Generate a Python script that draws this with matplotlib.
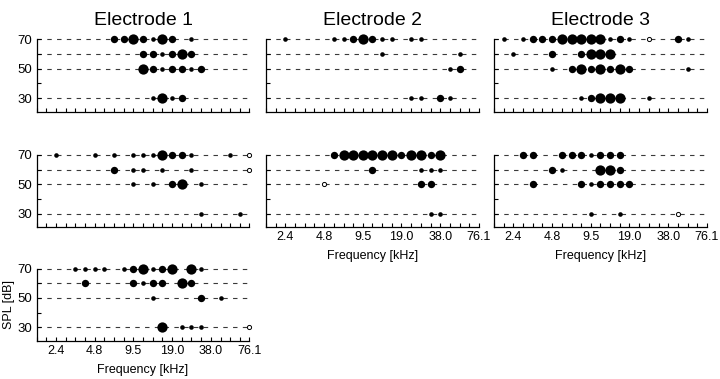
import matplotlib
matplotlib.use("Agg")
import matplotlib.pyplot as plt

plt.rcParams['font.family'] = ['Liberation Sans', 'DejaVu Sans']

# quarter-octave frequency grid (kHz)
FREQ_KHZ = [1.68, 2.0, 2.38, 2.83, 3.36, 4.0, 4.76, 5.66, 6.73, 8.0, 9.51, 11.3,
            13.5, 16.0, 19.0, 22.6, 26.9, 32.0, 38.0, 45.3, 53.8, 64.0, 76.1]
XTICK_KHZ = [2.38, 4.76, 9.51, 19.0, 38.0, 76.1]
XTICK_LABELS = ["2.4", "4.8", "9.5", "19.0", "38.0", "76.1"]
SPL_LEVELS = [70, 60, 50, 30]
YTICK_LABELS = ["70", "50", "30"]
TITLES = ["Electrode 1", "Electrode 2", "Electrode 3"]

# size codes: 0 = hollow, 1 = small, 2 = medium, 3 = large
# Electrode 1, panel a
e1a_idx = [8, 9, 10, 11, 12, 13, 14, 16,  11, 12, 13, 14, 15, 16,  11, 12, 13, 14, 15, 16, 17,  12, 13, 14, 15]
e1a_spl = [70]*8 + [60]*6 + [50]*7 + [30]*4
e1a_size = [2, 2, 3, 2, 1, 3, 2, 1,  2, 2, 1, 2, 3, 2,  3, 2, 1, 2, 2, 1, 2,  1, 3, 1, 2]

# Electrode 1, panel b
e1b_idx = [2, 6, 8, 10, 11, 12, 13, 14, 15, 16, 20, 22,  8, 10, 11, 13, 16, 22,  10, 12, 14, 15, 17,  17, 21]
e1b_spl = [70]*12 + [60]*6 + [50]*5 + [30]*2
e1b_size = [1, 1, 1, 1, 1, 1, 3, 2, 2, 1, 1, 0,  2, 1, 1, 1, 1, 0,  1, 1, 2, 3, 1,  1, 1]

# Electrode 1, panel c
e1c_idx = [4, 5, 6, 7, 9, 10, 11, 12, 13, 14, 16, 17,  5, 10, 11, 12, 13, 15, 16,  12, 17, 19,  13, 15, 16, 17, 22]
e1c_spl = [70]*12 + [60]*7 + [50]*3 + [30]*5
e1c_size = [1, 1, 1, 1, 1, 2, 3, 1, 2, 3, 3, 1,  2, 2, 1, 2, 2, 3, 2,  1, 2, 1,  3, 1, 1, 1, 0]

# Electrode 2, panel a
e2a_idx = [2, 7, 8, 9, 10, 11, 12, 13, 15, 16,  12, 20,  19, 20,  15, 16, 18, 19]
e2a_spl = [70]*10 + [60]*2 + [50]*2 + [30]*4
e2a_size = [1, 1, 1, 2, 3, 2, 1, 1, 1, 1,  1, 1,  1, 2,  1, 1, 2, 1]

# Electrode 2, panel b
e2b_idx = [7, 8, 9, 10, 11, 12, 13, 14, 15, 16, 17, 18,  11, 16, 17, 18,  6, 16, 17,  17, 18]
e2b_spl = [70]*12 + [60]*4 + [50]*3 + [30]*2
e2b_size = [2, 3, 3, 3, 3, 3, 3, 2, 3, 3, 2, 3,  2, 1, 1, 1,  0, 2, 2,  1, 1]

# Electrode 3, panel a
e3a_idx = [1, 3, 4, 5, 6, 7, 8, 9, 10, 11, 12, 13, 14, 16, 19, 20,
           2, 6, 9, 10, 11, 12,  6, 8, 9, 10, 11, 12, 13, 14, 20,  9, 10, 11, 12, 13, 16]
e3a_spl = [70]*16 + [60]*6 + [50]*9 + [30]*6
e3a_size = [1, 1, 2, 2, 2, 3, 3, 3, 3, 3, 1, 2, 1, 0, 2, 1,
            1, 2, 2, 3, 3, 3,  1, 2, 3, 2, 3, 2, 3, 2, 1,  1, 2, 3, 3, 3, 1]

# Electrode 3, panel b
e3b_idx = [3, 4, 7, 8, 9, 10, 11, 12, 13,  6, 7, 11, 12, 13,  4, 9, 10, 11, 12, 13, 14,  10, 13, 19]
e3b_spl = [70]*9 + [60]*5 + [50]*7 + [30]*3
e3b_size = [2, 2, 2, 2, 2, 1, 2, 2, 2,  2, 1, 3, 3, 2,  2, 2, 1, 2, 2, 2, 2,  1, 1, 0]

MS = {1: 3.3, 2: 5.3, 3: 7.4, 0: 3.0}

W, H = 720, 379
fig = plt.figure(figsize=(7.2, 3.79), dpi=100)

col_left = [36.5, 266.0, 494.0]
col_w = 213.0
row_bottom = [111.7, 227.3, 341.0]
ax_h = 72.4

panels = [
    (0, 0, e1a_idx, e1a_spl, e1a_size),
    (1, 0, e1b_idx, e1b_spl, e1b_size),
    (2, 0, e1c_idx, e1c_spl, e1c_size),
    (0, 1, e2a_idx, e2a_spl, e2a_size),
    (1, 1, e2b_idx, e2b_spl, e2b_size),
    (0, 2, e3a_idx, e3a_spl, e3a_size),
    (1, 2, e3b_idx, e3b_spl, e3b_size),
]
bottom_row = {0: 2, 1: 1, 2: 1}

for row, col, idx, spl, size in panels:
    rect = [col_left[col] / W, 1 - row_bottom[row] / H, col_w / W, ax_h / H]
    ax = fig.add_axes(rect)
    ax.set_xscale('log', base=2)
    ax.set_xlim(FREQ_KHZ[0], FREQ_KHZ[-1])
    ax.set_ylim(20.7, 70)
    for lev in SPL_LEVELS:
        ax.plot([FREQ_KHZ[0], FREQ_KHZ[-1]], [lev, lev], color='#3a3a3a', lw=0.8,
                linestyle=(0, (4.0, 4.8)), zorder=1, clip_on=False)
    for i, s, c in zip(idx, spl, size):
        if c == 0:
            ax.plot(FREQ_KHZ[i], s, 'o', ms=MS[c], mfc='white', mec='black', mew=0.7,
                    zorder=3, clip_on=False)
        else:
            ax.plot(FREQ_KHZ[i], s, 'o', ms=MS[c], mfc='black', mec='black', mew=0,
                    zorder=3, clip_on=False)
    for side in ('top', 'right'):
        ax.spines[side].set_visible(False)
    for side in ('left', 'bottom'):
        ax.spines[side].set_linewidth(0.9)
    ax.set_xticks(FREQ_KHZ, minor=True)
    ax.set_xticks(XTICK_KHZ)
    ax.set_yticks([70, 50, 30])
    ax.set_yticks([60, 40], minor=True)
    ax.tick_params(which='both', direction='in', length=3, width=0.8)
    if bottom_row[col] == row:
        ax.set_xticklabels(XTICK_LABELS, fontsize=9)
        ax.set_xlabel("Frequency [kHz]", fontsize=9, labelpad=5)
    else:
        ax.set_xticklabels([])
    ax.xaxis.set_minor_formatter(matplotlib.ticker.NullFormatter())
    if col == 0:
        ax.set_yticklabels(YTICK_LABELS, fontsize=9.5)
    else:
        ax.set_yticklabels([])
    ax.tick_params(axis='both', which='major', pad=3)
    if col == 0 and row == 2:
        ax.set_ylabel("SPL [dB]", fontsize=9, labelpad=2)
    if row == 0:
        ax.set_title(TITLES[col], fontsize=14, pad=10)

fig.savefig("out.png", dpi=100)
